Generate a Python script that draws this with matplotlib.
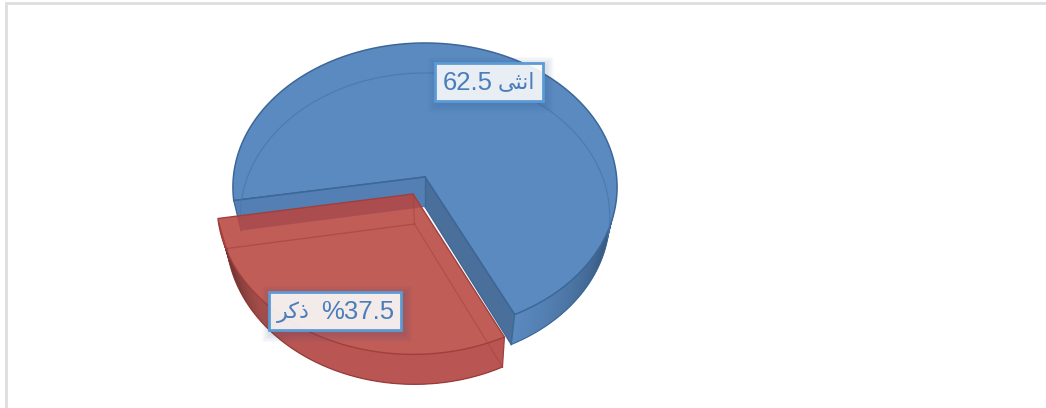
import numpy as np
import matplotlib
matplotlib.use("Agg")
import matplotlib.pyplot as plt
from matplotlib.patches import Polygon, Rectangle

# data
categories = ["انثى", "ذكر"]
shares = [62.5, 37.5]
# presentation forms in visual order, matplotlib does no arabic shaping
shaped = ["\ufef0\ufe9c\ufee7\ufe8d", "\ufeae\ufedb\ufeab"]
value_texts = [f"{shares[0]}", f"%{shares[1]}"]

# view of the 3d pie, pixels
W, H = 1046, 408
CX, CY = 425, 177
RX, RY = 191.6, 143.4
PERSP = 0.07
DEPTH = 30
RIM_X = 0.962          # bottom rim is further away, so narrower
FIRST_ANGLE = 64.0     # where the front slice starts
FRONT_SQUASH = 0.79    # the tilted view narrows the front slice
EXPLODE = (-12, 17)
RED_SCALE = (1.02, 1.04)


def project(theta, ox=CX, oy=CY, sx=1.0, sy=1.0):
    t = np.radians(theta)
    w = 1 - PERSP * np.sin(t)
    return ox + sx * RX * np.cos(t) / w, oy + sy * RY * np.sin(t) / w


def mix(c1, c2, t):
    a, b = matplotlib.colors.to_rgb(c1), matplotlib.colors.to_rgb(c2)
    return tuple(a[i] + (b[i] - a[i]) * t for i in range(3))


def arc_points(a0, a1, ox, oy, sx=1.0, sy=1.0, n=200):
    th = np.linspace(a0, a1, n)
    x, y = project(th, ox, oy, sx, sy)
    return np.column_stack([x, y])


def wall(a0, a1, ox, oy, sx, sy, low_ox, color_at, z):
    # strips overlap the next one so no seams show
    step = 0.6
    for a in np.arange(a0, a1, step):
        end = min(a + step * 3, a1)
        p0 = arc_points(a, end, ox, oy, sx, sy, n=4)
        p1 = arc_points(end, a, low_ox, oy + DEPTH, sx * RIM_X, sy, n=4)
        ax.add_patch(Polygon(np.vstack([p0, p1]), fc=color_at(a), ec="none", zorder=z))


fig = plt.figure(figsize=(W / 100, H / 100), dpi=100)
ax = fig.add_axes([0, 0, 1, 1])
ax.set_xlim(0, W)
ax.set_ylim(H, 0)
ax.axis("off")

# frame of the slide
ax.plot([6, 6, W], [H, 2.5, 2.5], color="#dedede", lw=2, solid_joinstyle="miter")

red_sweep = shares[1] / 100 * 360 * FRONT_SQUASH
red_a0 = FIRST_ANGLE
red_a1 = FIRST_ANGLE + red_sweep
blue_a0 = red_a1
blue_a1 = FIRST_ANGLE + 360

blue_top = "#5b8ac1"
blue_edge = "#3c6797"
blue_cut = "#4a6f9b"
blue_side = "#537fb4"

# blue outer wall, dark towards the right hand tip
wall(360, blue_a1, CX, CY, 1.0, 1.0, CX,
     lambda a: mix("#2a4666", "#5b8ac0", min(1.0, ((a - 372) / 52) ** 0.7) if a > 372 else 0.0), 2)
wall_low = arc_points(372, blue_a1, CX, CY + DEPTH, RIM_X)
ax.plot(wall_low[:, 0], wall_low[:, 1], color=blue_edge, lw=0.8, zorder=2)

# blue top
top_pts = np.vstack([[[CX, CY]], arc_points(blue_a0, blue_a1, CX, CY)])
ax.add_patch(Polygon(top_pts, fc=blue_top, ec=blue_edge, lw=1.1, zorder=3))

# cut walls of the blue slice
for a, col in [(blue_a1, blue_cut), (blue_a0, blue_side)]:
    ex, ey = project(a)
    lx, ly = project(a, CX, CY + DEPTH, RIM_X)
    quad = [[CX, CY], [ex, ey], [lx, ly], [CX, CY + DEPTH]]
    ax.add_patch(Polygon(quad, fc=col, ec="none", zorder=4))
    ax.plot([CX, ex], [CY, ey], color=blue_edge, lw=1.1, zorder=4)
    ax.plot([ex, lx], [ey, ly], color=blue_edge, lw=0.9, zorder=4)
ax.plot([CX, CX], [CY, CY + DEPTH], color=blue_edge, lw=0.9, zorder=4)
# the front cut wall has its lower edge too
lx, ly = project(blue_a1, CX, CY + DEPTH, RIM_X)
ax.plot([CX, lx], [CY + DEPTH, ly], color=blue_edge, lw=0.9, zorder=4)

# back of the bottom rim seen through the top
ring = arc_points(blue_a0, blue_a1 - 52, CX, CY + DEPTH, RIM_X)
ax.plot(ring[:, 0], ring[:, 1], color="#4a78ad", lw=0.9, alpha=0.8, zorder=5)

# red slice
rx0, ry0 = CX + EXPLODE[0], CY + EXPLODE[1]
sx, sy = RED_SCALE
low_x = rx0 + 1.5
red_top = "#b84740"
red_edge = "#a13f3c"


def red_wall_color(a):
    dark = max(0.0, (a - 125) / (red_a1 - 125)) ** 1.5
    return mix("#b95653", "#3e1f1e", dark)


wall(red_a0, red_a1, rx0, ry0, sx, sy, low_x, red_wall_color, 6)

red_pts = np.vstack([[[rx0, ry0]], arc_points(red_a0, red_a1, rx0, ry0, sx, sy)])
ax.add_patch(Polygon(red_pts, fc=red_top, ec="none", alpha=0.88, zorder=7))
ax.add_patch(Polygon(red_pts, fc="none", ec=red_edge, lw=1.0, zorder=7))

# bottom face of the red slice, seen through
low_pts = np.vstack([[[low_x, ry0 + DEPTH]],
                     arc_points(red_a0, red_a1, low_x, ry0 + DEPTH, sx * RIM_X, sy)])
ax.plot(low_pts[1:, 0], low_pts[1:, 1], color="#8f3432", lw=0.9, alpha=0.85, zorder=8)
ax.plot([low_pts[0, 0], low_pts[-1, 0]], [low_pts[0, 1], low_pts[-1, 1]],
        color=red_edge, lw=0.9, alpha=0.6, zorder=8)
ax.plot([low_pts[0, 0], low_pts[1, 0]], [low_pts[0, 1], low_pts[1, 1]],
        color=red_edge, lw=0.8, alpha=0.5, zorder=8)
ax.plot([rx0, low_x], [ry0, ry0 + DEPTH], color=red_edge, lw=0.8, alpha=0.6, zorder=8)
ex, ey = project(red_a0, rx0, ry0, sx, sy)
ax.plot([ex, low_pts[1, 0]], [ey, low_pts[1, 1]], color=red_edge, lw=0.9, zorder=8)

# data labels: box, then left and right piece of text
boxes = [(434.5, 62.5, 108, 38), (269, 291.5, 132, 38.5)]
lefts = [value_texts[0], shaped[1]]
rights = [shaped[0], value_texts[1]]
left_x = [442.5, 277]
right_x = [535, 394]
fonts = ["Liberation Sans", "DejaVu Sans"]
for i, (bx, by, bw, bh) in enumerate(boxes):
    for grow in np.arange(9, 0, -1.5):
        ax.add_patch(Rectangle((bx - grow + 2, by - grow + 3), bw + 2 * grow, bh + 2 * grow,
                               fc="#2f4f7f", ec="none", alpha=0.03, zorder=9))
    ax.add_patch(Rectangle((bx, by), bw, bh, fc="white", ec="none", alpha=0.88, zorder=10))
    ax.add_patch(Rectangle((bx, by), bw, bh, fc="none", ec="#5b9bd5", lw=2.0, zorder=11))
    cy = by + bh / 2 + 1
    ax.text(left_x[i], cy, lefts[i], ha="left", va="center", color="#4a7ebb", family=fonts,
            fontsize=18.5 if i == 0 else 16, zorder=12)
    ax.text(right_x[i], cy, rights[i], ha="right", va="center", color="#4a7ebb", family=fonts,
            fontsize=16 if i == 0 else 18.5, zorder=12)

fig.savefig("out.png", dpi=100)
